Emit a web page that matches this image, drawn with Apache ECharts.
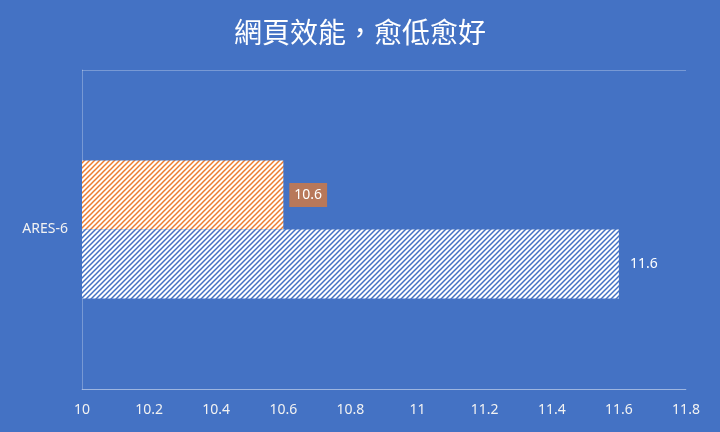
<!DOCTYPE html>
<html>
<head>
<meta charset="utf-8">
<script src="https://cdn.jsdelivr.net/npm/echarts@6/dist/echarts.min.js"></script>
<style>
html,body{margin:0;padding:0;background:#4472C4;}
#main{width:720px;height:432px;}
</style>
</head>
<body>
<div id="main"></div>
<script>
var titleText = '網頁效能，愈低愈好';
var categories = ['ARES-6'];
var seriesOrange = [10.6];
var seriesBlue = [11.6];
var xTicks = [10, 10.2, 10.4, 10.6, 10.8, 11, 11.2, 11.4, 11.6, 11.8];

function hatch(color) {
  var c = document.createElement('canvas');
  var s = 5;
  c.width = s; c.height = s;
  var ctx = c.getContext('2d');
  ctx.fillStyle = '#ffffff';
  ctx.fillRect(0, 0, s, s);
  ctx.strokeStyle = color;
  ctx.lineWidth = 1.5;
  ctx.beginPath();
  ctx.moveTo(-1, s + 1); ctx.lineTo(s + 1, -1);
  ctx.moveTo(-1, 1); ctx.lineTo(1, -1);
  ctx.moveTo(s - 1, s + 1); ctx.lineTo(s + 1, s - 1);
  ctx.stroke();
  return { image: c, repeat: 'repeat' };
}

var chart = echarts.init(document.getElementById('main'), null, {renderer: 'canvas'});
var lineColor = 'rgba(255,255,255,0.28)';
chart.setOption({
  backgroundColor: '#4472C4',
  animation: false,
  title: {
    text: titleText,
    left: 'center',
    top: 13,
    textStyle: { color: '#ffffff', fontSize: 28, fontWeight: 'normal', fontFamily: 'Noto Sans CJK TC' }
  },
  grid: { left: 82, right: 34, top: 70, bottom: 43 },
  xAxis: {
    type: 'value',
    min: xTicks[0],
    max: xTicks[xTicks.length - 1],
    interval: 0.2,
    axisLine: { show: true, lineStyle: { color: lineColor } },
    axisTick: { show: false },
    splitLine: { show: false },
    axisLabel: {
      color: '#f2f2f2', fontSize: 14, margin: 14, fontFamily: 'Noto Sans',
      formatter: function (v) { return String(Math.round(v * 10) / 10); }
    }
  },
  yAxis: {
    type: 'category',
    data: categories,
    axisLine: { show: true, lineStyle: { color: lineColor } },
    axisTick: { show: false },
    splitLine: { show: true, lineStyle: { color: lineColor } },
    axisLabel: { color: '#f2f2f2', fontSize: 14, margin: 14, fontFamily: 'Noto Sans' }
  },
  series: [
    {
      type: 'bar',
      data: seriesOrange,
      barWidth: 69,
      barGap: '0%',
      itemStyle: { color: hatch('#ED7D31') },
      label: {
        show: true, position: 'right', distance: 6,
        color: '#ffffff', fontSize: 14, fontFamily: 'Noto Sans',
        backgroundColor: '#B8785A', padding: [5, 5]
      }
    },
    {
      type: 'bar',
      data: seriesBlue,
      barWidth: 69,
      barGap: '0%',
      itemStyle: { color: hatch('#4472C4') },
      label: {
        show: true, position: 'right', distance: 6,
        color: '#ffffff', fontSize: 14, fontFamily: 'Noto Sans',
        padding: [5, 5]
      }
    }
  ]
});
</script>
</body>
</html>
